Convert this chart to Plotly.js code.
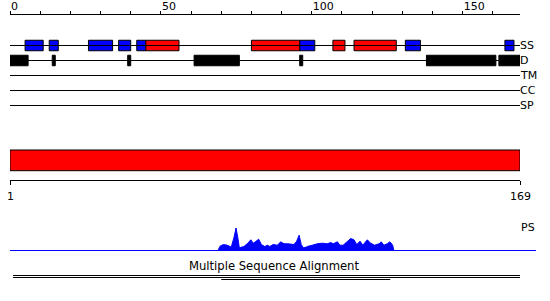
<!DOCTYPE html>
<html>
<head>
<meta charset="utf-8">
<script src="https://cdn.plot.ly/plotly-3.0.1.min.js"></script>
<style>html,body{margin:0;padding:0;background:#fff;}#chart{width:550px;height:301px;}</style>
</head>
<body>
<div id="chart"></div>
<script>
// ---- data ----
const seqLength = 169;
const topTickVals = [0, 10, 20, 30, 40, 50, 60, 70, 80, 90, 100, 110, 120, 130, 140, 150, 160];
const topTickText = ['0', '', '', '', '', '50', '', '', '', '', '100', '', '', '', '', '150', ''];
const trackNames = ['SS', 'D', 'TM', 'CC', 'SP'];
const trackRows = [2, 3, 4, 5, 6];
// secondary structure: strands (blue) and helices (red)
const ssBlueStart = [5, 13, 26, 36, 42, 96, 131, 164];
const ssBlueEnd   = [11, 16, 34, 40, 45, 101, 136, 167];
const ssRedStart  = [45, 80, 107, 114];
const ssRedEnd    = [56, 96, 111, 128];
// disorder
const dStart = [0, 14, 39, 61, 96, 138, 162];
const dEnd   = [6, 15, 40, 76, 97, 161, 169];
// full-length domain bar
const domainStart = [1];
const domainEnd = [169];
const rulerTicks = [1, 169];
// PS profile
const psPos = [68.9, 69.6, 70.7, 72.0, 72.9, 73.3, 74.2, 74.9, 75.5, 76.0, 77.5, 78.6, 79.8, 80.6, 81.3, 82.4, 83.3, 84.4, 85.3, 86.1, 87.2, 88.6, 89.7, 90.8, 92.1, 94.1, 95.0, 95.8, 96.5, 97.2, 98.1, 98.5, 100.2, 101.8, 103.5, 105.1, 106.3, 107.1, 108.5, 109.3, 110.4, 111.8, 112.9, 114.0, 114.9, 116.0, 116.9, 118.4, 119.5, 120.8, 122.3, 123.0, 123.9, 125.0, 125.9, 126.8, 127.2];
const psVal = [0, 4.3, 6, 5.3, 4, 3.3, 12.7, 22.5, 12.7, 2.7, 4, 6.7, 10.7, 7.3, 8.7, 11.3, 6, 4, 5.3, 4, 6, 5.3, 8.7, 6.7, 6.7, 6, 9.3, 15.3, 6, 2.7, 3.3, 4, 5.3, 6.7, 7.3, 6.7, 8, 6.7, 8.7, 5.3, 5.3, 9.3, 12, 10.7, 6, 9.3, 5.3, 10.7, 7.3, 5.3, 6.7, 8.7, 5.3, 6.7, 8.7, 5.3, 0];
const psRange = [0, 174.3];
// multiple sequence alignment
const msaFull = [1, 169];
const msaCover = [70, 126];

// ---- layout helpers ----
const W = 550, H = 301, ML = 10, MR = 14;
const PW = W - ML - MR;
const dom = (top, bottom) => [1 - bottom / H, 1 - top / H];
const xFrac = px => (px - ML) / PW;
const yFrac = px => 1 - px / H;
const FONT = 'DejaVu Sans';

const traces = [];
// track lines
trackRows.forEach(r => {
  traces.push({type: 'scatter', mode: 'lines', x: [0, seqLength], y: [r, r],
    xaxis: 'x', yaxis: 'y', line: {color: '#000', width: 1}, hoverinfo: 'skip'});
});
function boxTrace(starts, ends, row, color) {
  return {type: 'bar', orientation: 'h', base: starts, x: ends.map((e, i) => e - starts[i]),
    y: starts.map(() => row), width: 0.7, xaxis: 'x', yaxis: 'y',
    marker: {color: color, line: {color: '#000', width: 1}}, hoverinfo: 'skip'};
}
traces.push(boxTrace(ssBlueStart, ssBlueEnd, trackRows[0], '#0000ff'));
traces.push(boxTrace(ssRedStart, ssRedEnd, trackRows[0], '#ff0000'));
traces.push(boxTrace(dStart, dEnd, trackRows[1], '#000000'));
// domain bar
traces.push({type: 'bar', orientation: 'h', base: domainStart,
  x: domainEnd.map((e, i) => e - domainStart[i]), y: [0.614], width: 0.647,
  xaxis: 'x2', yaxis: 'y2', marker: {color: '#ff0000', line: {color: '#000', width: 1}}, hoverinfo: 'skip'});
// PS baseline + area
traces.push({type: 'scatter', mode: 'lines', x: psRange, y: [0, 0], xaxis: 'x3', yaxis: 'y3',
  line: {color: '#0000ff', width: 1}, hoverinfo: 'skip'});
traces.push({type: 'scatter', mode: 'lines', x: psPos, y: psVal, xaxis: 'x3', yaxis: 'y3',
  fill: 'tozeroy', fillcolor: '#0000ff', line: {color: '#0000ff', width: 1}, hoverinfo: 'skip'});
// MSA lines
[0, 1].forEach(r => traces.push({type: 'scatter', mode: 'lines', x: msaFull, y: [r, r],
  xaxis: 'x', yaxis: 'y4', line: {color: '#000', width: 1}, hoverinfo: 'skip'}));
traces.push({type: 'scatter', mode: 'lines', x: msaCover, y: [2, 2],
  xaxis: 'x', yaxis: 'y4', line: {color: '#000', width: 1}, hoverinfo: 'skip'});

const annotations = [];
trackNames.forEach((n, i) => annotations.push({text: n, x: seqLength, y: trackRows[i], xref: 'x', yref: 'y',
  xanchor: 'left', yanchor: 'middle', showarrow: false, xshift: -2, font: {family: FONT, size: 11, color: '#000'}}));
rulerTicks.forEach(v => annotations.push({text: String(v), x: v, xref: 'x2', y: yFrac(196), yref: 'paper',
  xanchor: 'center', yanchor: 'middle', showarrow: false,
  font: {family: FONT, size: 11, color: '#000'}}));
annotations.push({text: 'PS', x: xFrac(519), xref: 'paper', y: yFrac(227), yref: 'paper',
  xanchor: 'left', yanchor: 'middle', showarrow: false, font: {family: FONT, size: 11, color: '#000'}});
annotations.push({text: 'Multiple Sequence Alignment', x: xFrac(274), xref: 'paper', y: yFrac(266), yref: 'paper',
  xanchor: 'center', yanchor: 'middle', showarrow: false, font: {family: FONT, size: 11.6, color: '#000'}});

const hidden = {visible: false, fixedrange: true};
const layout = {
  width: W, height: H, margin: {l: ML, r: MR, t: 0, b: 0, pad: 0},
  paper_bgcolor: '#fff', plot_bgcolor: 'rgba(0,0,0,0)', showlegend: false, barmode: 'overlay',
  font: {family: FONT, size: 11, color: '#000'},
  xaxis: {domain: [0, xFrac(520)], range: [0, seqLength], side: 'top', anchor: 'y',
    showline: true, linecolor: '#000', linewidth: 1, showgrid: false, zeroline: false,
    ticks: 'outside', ticklen: 3, tickwidth: 1, tickcolor: '#000',
    tickvals: topTickVals, ticktext: topTickText, ticklabelposition: 'outside right',
    tickfont: {family: FONT, size: 11, color: '#000'}, fixedrange: true},
  yaxis: Object.assign({domain: dom(15, 115), range: [6.6333, -0.0333], anchor: 'x'}, hidden),
  xaxis2: {domain: [0, xFrac(520)], range: [1, seqLength], anchor: 'y2', side: 'bottom',
    showline: true, linecolor: '#000', linewidth: 1, showgrid: false, zeroline: false,
    ticks: 'outside', ticklen: 4, tickwidth: 1, tickcolor: '#000',
    tickvals: rulerTicks, showticklabels: false, fixedrange: true},
  yaxis2: Object.assign({domain: dom(148, 180), range: [0, 1], anchor: 'x2'}, hidden),
  xaxis3: Object.assign({domain: [0, 1], range: psRange, anchor: 'y3'}, hidden),
  yaxis3: Object.assign({domain: dom(222, 254), range: [-3.5, 28.5], anchor: 'x3'}, hidden),
  yaxis4: Object.assign({domain: dom(271, 283), range: [3.75, -2.25], anchor: 'x'}, hidden),
  annotations: annotations
};
Plotly.newPlot('chart', traces, layout, {staticPlot: true, displayModeBar: false});
</script>
</body>
</html>
